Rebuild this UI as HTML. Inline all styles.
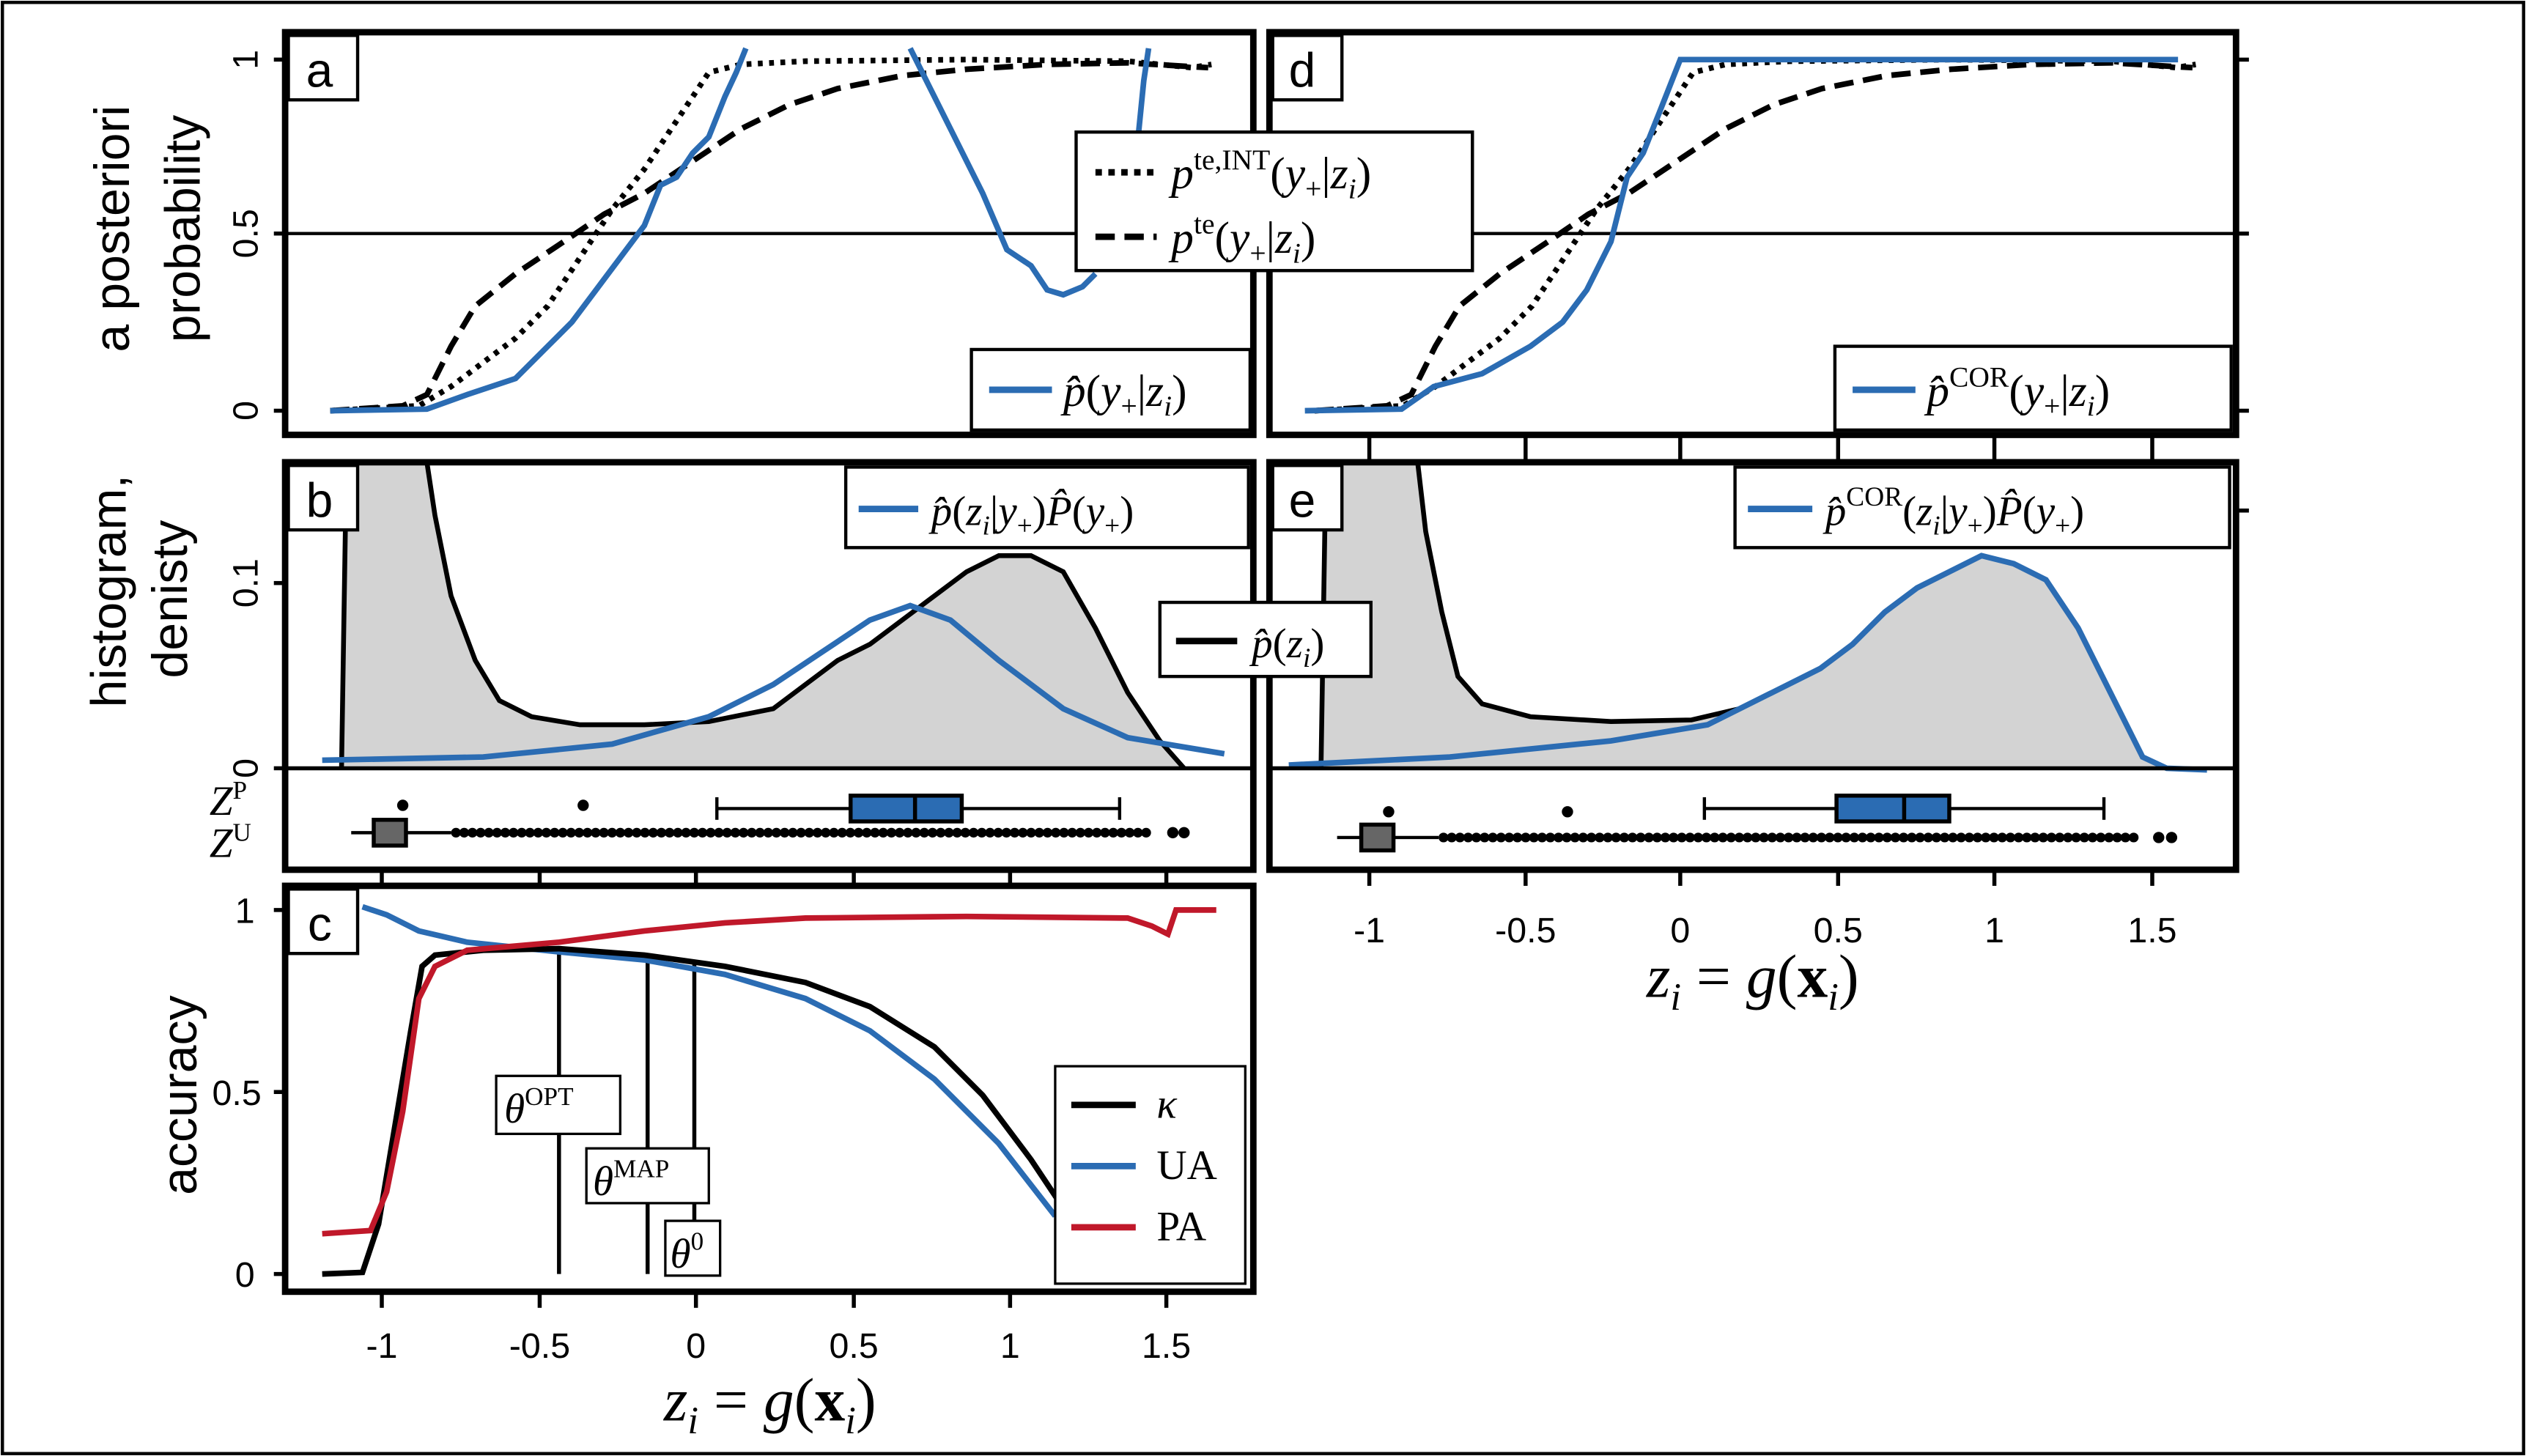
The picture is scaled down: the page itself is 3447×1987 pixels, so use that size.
<!DOCTYPE html>
<html><head><meta charset="utf-8"><style>
html,body{margin:0;padding:0;background:#fff;}
svg{display:block;}
.t{font-family:"Liberation Sans",sans-serif;}
.m{font-family:"Liberation Serif",serif;font-style:italic;}
</style></head><body>
<svg width="3447" height="1987" viewBox="0 0 1568 904" preserveAspectRatio="none" xmlns="http://www.w3.org/2000/svg">
<rect x="0" y="0" width="1568" height="904" fill="#fff"/>
<rect x="1.5" y="1.5" width="1565" height="901" fill="none" stroke="#000" stroke-width="2"/>

<!-- Panel a -->
<line x1="177" y1="145" x2="778" y2="145" stroke="#000" stroke-width="2"/>
<polyline fill="none" stroke="#000" stroke-width="3.5" stroke-dasharray="12,6" points="205,255 250,252 265,245 280,215 295,190 320,170 350,150 375,133 400,120 430,100 460,80 490,65 520,55 560,47 600,43 650,40 700,39 750,42"/>
<polyline fill="none" stroke="#000" stroke-width="3.5" stroke-dasharray="3,4" points="205,255 260,252 280,240 300,225 320,210 340,190 360,160 380,130 400,105 420,75 440,45 460,40 500,38 600,37 700,38 740,42 752,40"/>
<polyline fill="none" stroke="#2b6cb3" stroke-width="3.5" points="205,255 265,254 290,245 320,235 340,215 355,200 370,180 385,160 400,140 410,115 420,110 430,95 440,85 450,60 457,45 463,30"/>
<polyline fill="none" stroke="#2b6cb3" stroke-width="3.5" points="565,30 575,50 590,80 610,120 625,155 640,165 650,180 660,183 672,178 680,170"/>
<polyline fill="none" stroke="#2b6cb3" stroke-width="3.5" points="706,90 710,50 713,30"/>
<rect x="177" y="20" width="601" height="250" fill="none" stroke="#000" stroke-width="4"/>

<!-- Panel d -->
<line x1="788" y1="145" x2="1388" y2="145" stroke="#000" stroke-width="2"/>
<polyline fill="none" stroke="#000" stroke-width="3.5" stroke-dasharray="12,6" points="816,255 861,252 876,245 891,215 906,190 931,170 961,150 986,133 1011,120 1041,100 1071,80 1101,65 1131,55 1171,47 1211,43 1261,40 1311,39 1361,42"/>
<polyline fill="none" stroke="#000" stroke-width="3.5" stroke-dasharray="3,4" points="816,255 871,252 891,240 911,225 931,210 951,190 971,160 991,130 1011,105 1031,75 1051,45 1071,40 1111,38 1211,37 1311,38 1351,42 1363,40"/>
<polyline fill="none" stroke="#2b6cb3" stroke-width="3.5" points="810,255 870,254 890,240 920,232 950,215 970,200 985,180 1000,150 1010,110 1020,95 1030,70 1043,37 1352,37"/>
<rect x="788" y="20" width="600" height="250" fill="none" stroke="#000" stroke-width="4"/>

<!-- legends a/d -->
<rect x="668" y="82" width="246" height="86" fill="#fff" stroke="#000" stroke-width="2"/>
<line x1="680" y1="107" x2="718" y2="107" stroke="#000" stroke-width="4" stroke-dasharray="4,4"/>
<line x1="680" y1="147" x2="718" y2="147" stroke="#000" stroke-width="4" stroke-dasharray="12,6"/>
<text class="m" x="727" y="117" font-size="28">p<tspan font-size="18" dy="-12" font-style="normal">te,INT</tspan><tspan dy="12" font-style="normal">(</tspan>y<tspan font-size="18" dy="6" font-style="normal">+</tspan><tspan dy="-6" font-style="normal">|</tspan>z<tspan font-size="18" dy="6">i</tspan><tspan dy="-6" font-style="normal">)</tspan></text>
<text class="m" x="727" y="157" font-size="28">p<tspan font-size="18" dy="-12" font-style="normal">te</tspan><tspan dy="12" font-style="normal">(</tspan>y<tspan font-size="18" dy="6" font-style="normal">+</tspan><tspan dy="-6" font-style="normal">|</tspan>z<tspan font-size="18" dy="6">i</tspan><tspan dy="-6" font-style="normal">)</tspan></text>
<rect x="603" y="217" width="173" height="50" fill="#fff" stroke="#000" stroke-width="2"/>
<line x1="614" y1="242" x2="653" y2="242" stroke="#2b6cb3" stroke-width="4"/>
<text class="m" x="660" y="252" font-size="28">p̂<tspan font-style="normal">(</tspan>y<tspan font-size="18" dy="6" font-style="normal">+</tspan><tspan dy="-6" font-style="normal">|</tspan>z<tspan font-size="18" dy="6">i</tspan><tspan dy="-6" font-style="normal">)</tspan></text>
<rect x="1139" y="215" width="246" height="52" fill="#fff" stroke="#000" stroke-width="2"/>
<line x1="1150" y1="242" x2="1189" y2="242" stroke="#2b6cb3" stroke-width="4"/>
<text class="m" x="1196" y="252" font-size="28">p̂<tspan font-size="18" dy="-12" font-style="normal">COR</tspan><tspan dy="12" font-style="normal">(</tspan>y<tspan font-size="18" dy="6" font-style="normal">+</tspan><tspan dy="-6" font-style="normal">|</tspan>z<tspan font-size="18" dy="6">i</tspan><tspan dy="-6" font-style="normal">)</tspan></text>

<!-- Panel b -->
<polygon fill="#d3d3d3" stroke="none" points="212,477 215,290 218,287 265,287 270,320 280,370 295,410 310,435 330,445 360,450 400,450 440,448 480,440 500,425 520,410 540,400 560,385 580,370 600,355 620,345 640,345 660,355 680,390 700,430 720,460 735,477"/>
<polyline fill="none" stroke="#000" stroke-width="3" points="212,477 215,290 218,287"/>
<polyline fill="none" stroke="#000" stroke-width="3" points="265,287 270,320 280,370 295,410 310,435 330,445 360,450 400,450 440,448 480,440 500,425 520,410 540,400 560,385 580,370 600,355 620,345 640,345 660,355 680,390 700,430 720,460 735,477"/>
<polyline fill="none" stroke="#2b6cb3" stroke-width="3.5" points="200,472 300,470 380,462 440,445 480,425 510,405 540,385 565,376 590,385 620,410 660,440 700,458 760,468"/>
<line x1="177" y1="477" x2="778" y2="477" stroke="#000" stroke-width="2.5"/>
<!-- boxplot b -->
<line x1="445" y1="502" x2="695" y2="502" stroke="#000" stroke-width="2"/>
<line x1="445" y1="495" x2="445" y2="509" stroke="#000" stroke-width="2"/>
<line x1="695" y1="495" x2="695" y2="509" stroke="#000" stroke-width="2"/>
<rect x="528" y="494" width="69" height="16" fill="#2b6cb3" stroke="#000" stroke-width="2.5"/>
<line x1="568" y1="494" x2="568" y2="510" stroke="#000" stroke-width="2.5"/>
<circle cx="250" cy="500" r="3.5"/><circle cx="362" cy="500" r="3.5"/>
<line x1="218" y1="517" x2="280" y2="517" stroke="#000" stroke-width="2"/>
<line x1="283" y1="517" x2="715" y2="517" stroke="#000" stroke-width="6" stroke-dasharray="0.1,5" stroke-linecap="round"/>
<circle cx="728" cy="517" r="3.5"/><circle cx="735" cy="517" r="3.5"/>
<rect x="232" y="509" width="20" height="16" fill="#666" stroke="#000" stroke-width="2.5"/>
<text class="m" x="130" y="506" font-size="26">Z<tspan font-size="16" dy="-10" font-style="normal">P</tspan></text>
<text class="m" x="130" y="532" font-size="26">Z<tspan font-size="16" dy="-10" font-style="normal">U</tspan></text>
<rect x="177" y="287" width="601" height="253" fill="none" stroke="#000" stroke-width="4"/>

<!-- Panel e -->
<polygon fill="#d3d3d3" stroke="none" points="820,477 823,290 825,287 880,287 885,330 895,380 905,420 920,437 950,445 1000,448 1050,447 1080,440 1100,430 1130,415 1150,400 1170,380 1190,365 1210,355 1230,345 1250,350 1270,360 1290,390 1310,430 1330,470 1345,477"/>
<polyline fill="none" stroke="#000" stroke-width="3" points="820,477 823,290 825,287"/>
<polyline fill="none" stroke="#000" stroke-width="3" points="880,287 885,330 895,380 905,420 920,437 950,445 1000,448 1050,447 1080,440"/>
<polyline fill="none" stroke="#2b6cb3" stroke-width="3.5" points="800,475 900,470 1000,460 1060,450 1100,430 1130,415 1150,400 1170,380 1190,365 1210,355 1230,345 1250,350 1270,360 1290,390 1310,430 1330,470 1345,477 1370,478"/>
<line x1="788" y1="477" x2="1388" y2="477" stroke="#000" stroke-width="2.5"/>
<line x1="1058" y1="502" x2="1306" y2="502" stroke="#000" stroke-width="2"/>
<line x1="1058" y1="495" x2="1058" y2="509" stroke="#000" stroke-width="2"/>
<line x1="1306" y1="495" x2="1306" y2="509" stroke="#000" stroke-width="2"/>
<rect x="1140" y="494" width="70" height="16" fill="#2b6cb3" stroke="#000" stroke-width="2.5"/>
<line x1="1182" y1="494" x2="1182" y2="510" stroke="#000" stroke-width="2.5"/>
<circle cx="862" cy="504" r="3.5"/><circle cx="973" cy="504" r="3.5"/>
<line x1="830" y1="520" x2="893" y2="520" stroke="#000" stroke-width="2"/>
<line x1="896" y1="520" x2="1328" y2="520" stroke="#000" stroke-width="6" stroke-dasharray="0.1,5" stroke-linecap="round"/>
<circle cx="1340" cy="520" r="3.5"/><circle cx="1348" cy="520" r="3.5"/>
<rect x="845" y="512" width="20" height="16" fill="#666" stroke="#000" stroke-width="2.5"/>
<rect x="788" y="287" width="600" height="253" fill="none" stroke="#000" stroke-width="4"/>

<!-- legends b/e -->
<rect x="525" y="290" width="250" height="50" fill="#fff" stroke="#000" stroke-width="2"/>
<line x1="533" y1="316" x2="570" y2="316" stroke="#2b6cb3" stroke-width="4"/>
<text class="m" x="578" y="326" font-size="26">p̂<tspan font-style="normal">(</tspan>z<tspan font-size="17" dy="6">i</tspan><tspan dy="-6" font-style="normal">|</tspan>y<tspan font-size="17" dy="6" font-style="normal">+</tspan><tspan dy="-6" font-style="normal">)</tspan>P̂<tspan font-style="normal">(</tspan>y<tspan font-size="17" dy="6" font-style="normal">+</tspan><tspan dy="-6" font-style="normal">)</tspan></text>
<rect x="1077" y="290" width="307" height="50" fill="#fff" stroke="#000" stroke-width="2"/>
<line x1="1085" y1="316" x2="1125" y2="316" stroke="#2b6cb3" stroke-width="4"/>
<text class="m" x="1133" y="326" font-size="26">p̂<tspan font-size="17" dy="-12" font-style="normal">COR</tspan><tspan dy="12" font-style="normal">(</tspan>z<tspan font-size="17" dy="6">i</tspan><tspan dy="-6" font-style="normal">|</tspan>y<tspan font-size="17" dy="6" font-style="normal">+</tspan><tspan dy="-6" font-style="normal">)</tspan>P̂<tspan font-style="normal">(</tspan>y<tspan font-size="17" dy="6" font-style="normal">+</tspan><tspan dy="-6" font-style="normal">)</tspan></text>
<rect x="720" y="374" width="131" height="46" fill="#fff" stroke="#000" stroke-width="2"/>
<line x1="730" y1="398" x2="768" y2="398" stroke="#000" stroke-width="4"/>
<text class="m" x="777" y="408" font-size="26">p̂<tspan font-style="normal">(</tspan>z<tspan font-size="17" dy="6">i</tspan><tspan dy="-6" font-style="normal">)</tspan></text>

<!-- Panel c -->
<line x1="347" y1="589" x2="347" y2="791" stroke="#000" stroke-width="2.5"/>
<line x1="402" y1="594" x2="402" y2="791" stroke="#000" stroke-width="2.5"/>
<line x1="431" y1="598" x2="431" y2="791" stroke="#000" stroke-width="2.5"/>
<polyline fill="none" stroke="#2b6cb3" stroke-width="3.5" points="225,563 240,568 260,578 290,585 347,591 400,596 450,605 500,620 540,640 580,670 620,710 655,755"/>
<polyline fill="none" stroke="#000" stroke-width="3.5" points="200,791 225,790 235,760 245,700 255,640 262,600 270,593 300,590 347,589 400,593 450,600 500,610 540,625 580,650 610,680 640,720 660,750"/>
<polyline fill="none" stroke="#c0182a" stroke-width="3.5" points="200,766 230,764 240,740 250,690 260,620 270,600 290,590 347,585 400,578 450,573 500,570 600,569 700,570 715,575 725,580 730,565 755,565"/>
<rect x="308" y="668" width="77" height="36" fill="#fff" stroke="#000" stroke-width="1.5"/>
<text class="m" x="313" y="697" font-size="26">θ<tspan font-size="16" dy="-11" font-style="normal">OPT</tspan></text>
<rect x="364" y="713" width="76" height="34" fill="#fff" stroke="#000" stroke-width="1.5"/>
<text class="m" x="368" y="742" font-size="26">θ<tspan font-size="16" dy="-11" font-style="normal">MAP</tspan></text>
<rect x="413" y="758" width="34" height="34" fill="#fff" stroke="#000" stroke-width="1.5"/>
<text class="m" x="416" y="787" font-size="26">θ<tspan font-size="16" dy="-11" font-style="normal">0</tspan></text>
<rect x="655" y="662" width="118" height="135" fill="#fff" stroke="#000" stroke-width="1.5"/>
<line x1="665" y1="686" x2="705" y2="686" stroke="#000" stroke-width="4"/>
<line x1="665" y1="724" x2="705" y2="724" stroke="#2b6cb3" stroke-width="4"/>
<line x1="665" y1="762" x2="705" y2="762" stroke="#c0182a" stroke-width="4"/>
<text class="m" x="718" y="694" font-size="26">κ</text>
<text x="718" y="732" font-size="26" font-family="Liberation Serif,serif">UA</text>
<text x="718" y="770" font-size="26" font-family="Liberation Serif,serif">PA</text>
<rect x="177" y="550" width="601" height="252" fill="none" stroke="#000" stroke-width="4"/>

<!-- panel letters -->
<g class="t" font-size="30">
<rect x="179" y="22" width="43" height="40" fill="#fff" stroke="#000" stroke-width="2"/><text x="190" y="54">a</text>
<rect x="790" y="22" width="43" height="40" fill="#fff" stroke="#000" stroke-width="2"/><text x="800" y="54">d</text>
<rect x="179" y="289" width="43" height="40" fill="#fff" stroke="#000" stroke-width="2"/><text x="190" y="321">b</text>
<rect x="790" y="289" width="43" height="40" fill="#fff" stroke="#000" stroke-width="2"/><text x="800" y="321">e</text>
<rect x="179" y="552" width="43" height="40" fill="#fff" stroke="#000" stroke-width="2"/><text x="191" y="584">c</text>
</g>

<!-- ticks -->
<g stroke="#000" stroke-width="2.5">
<line x1="170" y1="37" x2="177" y2="37"/><line x1="170" y1="145" x2="177" y2="145"/><line x1="170" y1="255" x2="177" y2="255"/>
<line x1="1388" y1="37" x2="1396" y2="37"/><line x1="1388" y1="145" x2="1396" y2="145"/><line x1="1388" y1="255" x2="1396" y2="255"/>
<line x1="170" y1="362" x2="177" y2="362"/><line x1="170" y1="477" x2="177" y2="477"/>
<line x1="1388" y1="317" x2="1396" y2="317"/>
<line x1="170" y1="565" x2="177" y2="565"/><line x1="170" y1="678" x2="177" y2="678"/><line x1="170" y1="791" x2="177" y2="791"/>
<line x1="237" y1="540" x2="237" y2="550"/><line x1="335" y1="540" x2="335" y2="550"/><line x1="432" y1="540" x2="432" y2="550"/><line x1="530" y1="540" x2="530" y2="550"/><line x1="627" y1="540" x2="627" y2="550"/><line x1="724" y1="540" x2="724" y2="550"/>
<line x1="237" y1="802" x2="237" y2="812"/><line x1="335" y1="802" x2="335" y2="812"/><line x1="432" y1="802" x2="432" y2="812"/><line x1="530" y1="802" x2="530" y2="812"/><line x1="627" y1="802" x2="627" y2="812"/><line x1="724" y1="802" x2="724" y2="812"/>
<line x1="850" y1="270" x2="850" y2="287"/><line x1="947" y1="270" x2="947" y2="287"/><line x1="1043" y1="270" x2="1043" y2="287"/><line x1="1141" y1="270" x2="1141" y2="287"/><line x1="1238" y1="270" x2="1238" y2="287"/><line x1="1336" y1="270" x2="1336" y2="287"/>
<line x1="850" y1="540" x2="850" y2="550"/><line x1="947" y1="540" x2="947" y2="550"/><line x1="1043" y1="540" x2="1043" y2="550"/><line x1="1141" y1="540" x2="1141" y2="550"/><line x1="1238" y1="540" x2="1238" y2="550"/><line x1="1336" y1="540" x2="1336" y2="550"/>
</g>
<g class="t" font-size="22" text-anchor="middle">
<text transform="translate(160,37) rotate(-90)">1</text>
<text transform="translate(160,145) rotate(-90)">0.5</text>
<text transform="translate(160,255) rotate(-90)">0</text>
<text transform="translate(160,362) rotate(-90)">0.1</text>
<text transform="translate(160,477) rotate(-90)">0</text>
<text x="152" y="573">1</text><text x="147" y="686">0.5</text><text x="152" y="799">0</text>
<text x="237" y="843">-1</text><text x="335" y="843">-0.5</text><text x="432" y="843">0</text><text x="530" y="843">0.5</text><text x="627" y="843">1</text><text x="724" y="843">1.5</text>
<text x="850" y="585">-1</text><text x="947" y="585">-0.5</text><text x="1043" y="585">0</text><text x="1141" y="585">0.5</text><text x="1238" y="585">1</text><text x="1336" y="585">1.5</text>
</g>
<g class="t" font-size="31" text-anchor="middle">
<text transform="translate(80,142) rotate(-90)">a posteriori</text>
<text transform="translate(124,142) rotate(-90)">probability</text>
<text transform="translate(78,367) rotate(-90)">histogram,</text>
<text transform="translate(116,372) rotate(-90)">denisty</text>
<text transform="translate(122,680) rotate(-90)">accuracy</text>
</g>
<text class="m" x="478" y="882" font-size="38" text-anchor="middle">z<tspan font-size="24" dy="8">i</tspan><tspan dy="-8" font-style="normal"> = </tspan>g<tspan font-style="normal">(</tspan><tspan font-weight="bold" font-style="normal">x</tspan><tspan font-size="24" dy="8">i</tspan><tspan dy="-8" font-style="normal">)</tspan></text>
<text class="m" x="1088" y="619" font-size="38" text-anchor="middle">z<tspan font-size="24" dy="8">i</tspan><tspan dy="-8" font-style="normal"> = </tspan>g<tspan font-style="normal">(</tspan><tspan font-weight="bold" font-style="normal">x</tspan><tspan font-size="24" dy="8">i</tspan><tspan dy="-8" font-style="normal">)</tspan></text>
</svg>
</body></html>
